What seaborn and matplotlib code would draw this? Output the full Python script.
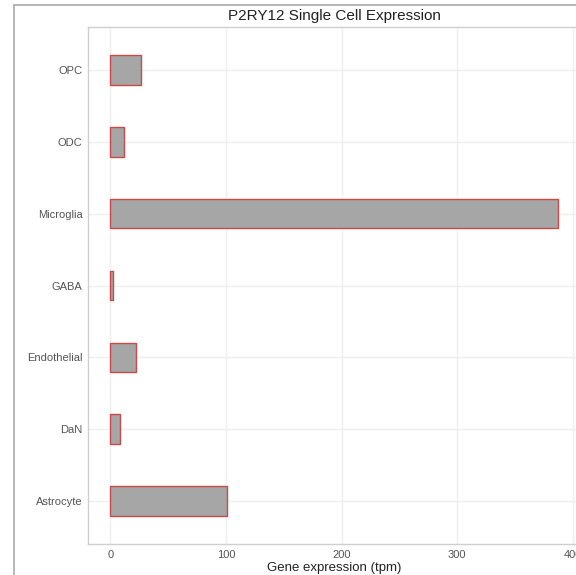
import numpy as np
import pandas as pd
import matplotlib
matplotlib.use("Agg")
import matplotlib.pyplot as plt
import seaborn as sns
from matplotlib.lines import Line2D

## data
cell_types = ["OPC", "ODC", "Microglia", "GABA", "Endothelial", "DaN", "Astrocyte"]
tpm = [26.5, 12, 387, 2.3, 22, 8.6, 101]

df = pd.DataFrame({"cell": cell_types, "tpm": tpm})

sns.set_style("white")
plt.rcParams['font.family'] = ['Liberation Sans', 'DejaVu Sans']

fig = plt.figure(figsize=(5.76, 5.75), dpi=100)
W, H = 576, 575
# panel runs off the right edge like the cropped original
ax = fig.add_axes([88 / W, 1 - 544 / H, (580 - 88) / W, (544 - 27) / H])

sns.barplot(data=df, x="tpm", y="cell", order=cell_types, orient="h",
            color="#a6a6a6", saturation=1, width=0.41,
            edgecolor="#c84a4a", linewidth=1.0, ax=ax)

xmax = max(tpm)
ax.set_xlim(-0.05 * xmax, 1.05 * xmax)
ax.set_ylim(len(cell_types) - 0.4, -0.6)
ax.set_xticks([0, 100, 200, 300, 400])

ax.grid(True, color="#efefef", linewidth=1.0)
ax.set_axisbelow(True)
for s in ax.spines.values():
    s.set_color("#cfcfcf")
    s.set_linewidth(1.0)

ax.tick_params(axis="both", length=0, pad=4, labelsize=8, labelcolor="#555555")
ax.set_ylabel("")
ax.set_xlabel("Gene expression (tpm)", fontsize=9.5, color="#222222", labelpad=2)
ax.set_title("P2RY12 Single Cell Expression", fontsize=11, color="#222222", pad=5)

# outer frame of the original screenshot
fig.add_artist(Line2D([14 / W, 14 / W], [0, 1 - 5 / H], color="#aaaaaa", lw=1.2))
fig.add_artist(Line2D([14 / W, 1], [1 - 5 / H, 1 - 5 / H], color="#aaaaaa", lw=1.2))

fig.savefig("out.png", dpi=100)
